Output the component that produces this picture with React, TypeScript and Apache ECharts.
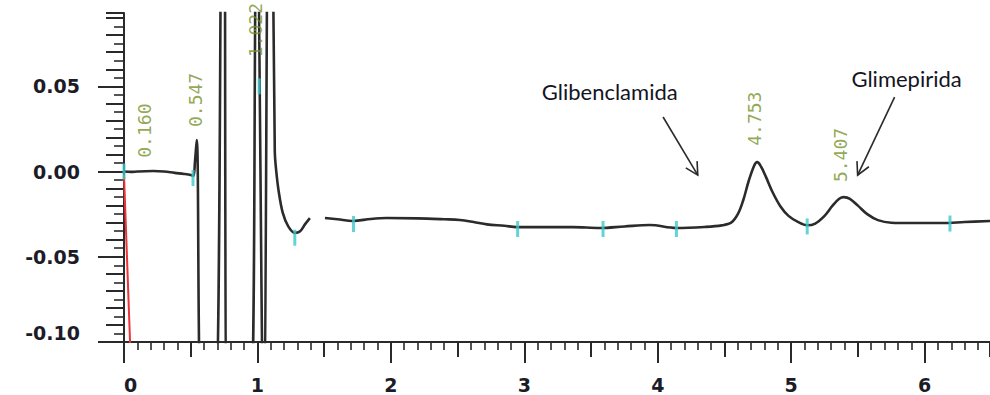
import React, { useEffect, useRef } from "react";
import * as echarts from "echarts";

// Retention time (min) and detector signal (AU). null = gap in the trace.
const retentionTime = [
  0, 0.05, 0.1, 0.16, 0.22, 0.3, 0.38, 0.45, 0.5, 0.52, 0.532, 0.545, 0.59,
  0.675, 0.74, 0.746, 0.752, 0.775, 0.935, 0.99, 0.995, 1.045, 1.085, 1.09,
  1.095, 1.13, 1.14, 1.16, 1.19, 1.23, 1.28, 1.32, 1.356, 1.393, 1.45, 1.506,
  1.6, 1.715, 1.85, 1.97, 2.2, 2.4, 2.517, 2.62, 2.72, 2.85, 2.944, 3.15,
  3.363, 3.566, 3.75, 3.94, 4.14, 4.35, 4.48, 4.55, 4.6, 4.64, 4.68, 4.72,
  4.745, 4.77, 4.81, 4.86, 4.92, 4.98, 5.05, 5.12, 5.18, 5.25, 5.31, 5.36,
  5.395, 5.44, 5.5, 5.57, 5.65, 5.75, 5.9, 6.135, 6.3, 6.49,
];
const signal: (number | null)[] = [
  0, -0.0002, 0, 0.0002, 0.0003, 0, -0.0008, -0.0014, -0.002, -0.0026, 0.006,
  0.0185, -0.15, -0.15, 0.3, 0.32, 0.3, -0.15, -0.15, 0.15, 0.16, -0.15, 0.3,
  0.31, 0.3, 0.012, 0.001, -0.012, -0.0243, -0.032, -0.036, -0.035, -0.031,
  -0.0273, null, -0.0273, -0.028, -0.029, -0.0278, -0.0273, -0.0275, -0.028,
  -0.0284, -0.0296, -0.031, -0.0318, -0.0326, -0.0326, -0.0326, -0.0331,
  -0.0322, -0.0314, -0.0331, -0.0325, -0.0316, -0.03, -0.025, -0.017, -0.006,
  0.003, 0.0055, 0.0035, -0.003, -0.012, -0.0205, -0.026, -0.0295, -0.0315,
  -0.0305, -0.026, -0.02, -0.016, -0.015, -0.016, -0.02, -0.025, -0.0285,
  -0.03, -0.0302, -0.0302, -0.0296, -0.029,
];

// Red baseline-start line
const redTime = [0, 0.05];
const redSignal = [-0.002, -0.11];

// Cyan integration markers
const markerTime = [0, 0.517, 1.013, 1.28, 1.72, 2.95, 3.59, 4.14, 5.12, 6.19];
const markerSignal = [0, -0.0038, 0.05, -0.0388, -0.0308, -0.0337, -0.0337, -0.0337, -0.0322, -0.0305];

// Retention-time labels of the peaks
const peakLabels = ["0.160", "0.547", "1.022", "4.753", "5.407"];
const peakLabelTime = [0.155, 0.533, 0.985, 4.728, 5.37];
const peakLabelSignal = [0.024, 0.042, 0.083, 0.031, 0.0097];

// Compound annotations
const compoundNames = ["Glibenclamida", "Glimepirida"];
const compoundTextPos = [[3.64, 0.0472], [5.865, 0.0548]];
const arrowFrom = [[4.04, 0.032], [5.775, 0.0437]];
const arrowTo = [[4.3, -0.0021], [5.498, -0.0021]];

// Axis ticks
const xMajor = [0, 1, 2, 3, 4, 5, 6];
const yMajor = [-0.1, -0.05, 0, 0.05];
const X_MIN = 0;
const X_MAX = 6.49;
const Y_MIN = -0.1;
const Y_MAX = 0.093;

const AXIS_COLOR = "#2a2a2a";
const LABEL_FONT = "DejaVu Sans";

export default function App() {
  const ref = useRef<HTMLDivElement>(null);

  useEffect(() => {
    if (!ref.current) return;
    const chart = echarts.init(ref.current, undefined, { renderer: "svg" });

    const traceData = retentionTime.map((t, i) => [t, signal[i]]);
    const redData = redTime.map((t, i) => [t, redSignal[i]]);
    const markerData = markerTime.map((t, i) => [t, markerSignal[i]]);
    const labelData = peakLabels.map((n, i) => ({
      name: n,
      value: [peakLabelTime[i], peakLabelSignal[i]],
    }));

    const overlayX = (interval: number, length: number, width: number) => ({
      type: "value",
      position: "bottom",
      min: X_MIN,
      max: X_MAX,
      interval,
      axisLine: { show: false, onZero: false },
      axisLabel: { show: false },
      splitLine: { show: false },
      axisTick: { show: true, length, lineStyle: { color: AXIS_COLOR, width } },
    });
    const overlayY = (interval: number, length: number, width: number) => ({
      type: "value",
      position: "left",
      min: Y_MIN,
      max: Y_MAX,
      interval,
      axisLine: { show: false, onZero: false },
      axisLabel: { show: false },
      splitLine: { show: false },
      axisTick: { show: true, length, lineStyle: { color: AXIS_COLOR, width } },
    });

    chart.setOption({
      animation: false,
      backgroundColor: "#ffffff",
      grid: { left: 124, top: 13, right: 0, bottom: 53 },
      xAxis: [
        {
          type: "value",
          position: "bottom",
          min: X_MIN,
          max: X_MAX,
          interval: 1,
          axisLine: { show: true, onZero: false, lineStyle: { color: AXIS_COLOR, width: 2 } },
          axisTick: {
            show: true,
            length: 21,
            customValues: xMajor,
            lineStyle: { color: AXIS_COLOR, width: 2 },
          },
          axisLabel: {
            show: true,
            customValues: xMajor,
            margin: 33,
            alignMinLabel: "left",
            fontFamily: LABEL_FONT,
            fontWeight: "bold",
            fontSize: 19,
            color: "#1c1c28",
            formatter: (v: number) => String(Math.round(v)),
          },
          splitLine: { show: false },
        },
        overlayX(0.5, 15, 2),
        overlayX(0.1, 8, 1.6),
      ],
      yAxis: [
        {
          type: "value",
          position: "left",
          min: Y_MIN,
          max: Y_MAX,
          interval: 0.05,
          axisLine: { show: true, onZero: false, lineStyle: { color: AXIS_COLOR, width: 2 } },
          axisTick: {
            show: true,
            length: 26,
            customValues: yMajor,
            lineStyle: { color: AXIS_COLOR, width: 2 },
          },
          axisLabel: {
            show: true,
            customValues: yMajor,
            margin: 44,
            verticalAlignMinLabel: "bottom",
            fontFamily: LABEL_FONT,
            fontWeight: "bold",
            fontSize: 19,
            color: "#1c1c28",
            formatter: (v: number) => v.toFixed(2),
          },
          splitLine: { show: false },
        },
        overlayY(0.01, 18, 2),
        overlayY(0.005, 10, 1.6),
      ],
      series: [
        {
          type: "line",
          xAxisIndex: 0,
          yAxisIndex: 0,
          data: traceData,
          showSymbol: false,
          connectNulls: false,
          clip: true,
          smooth: 0.35,
          lineStyle: { color: "#2b2b2b", width: 2.6 },
          z: 3,
        },
        {
          type: "line",
          xAxisIndex: 0,
          yAxisIndex: 0,
          data: redData,
          showSymbol: false,
          clip: true,
          lineStyle: { color: "#e8343a", width: 2 },
          z: 2,
        },
        {
          type: "scatter",
          xAxisIndex: 0,
          yAxisIndex: 0,
          data: markerData,
          symbol: "rect",
          symbolSize: [3, 16],
          itemStyle: { color: "#3cc9cc" },
          z: 4,
        },
        {
          type: "scatter",
          xAxisIndex: 0,
          yAxisIndex: 0,
          data: labelData,
          symbolSize: 0,
          clip: false,
          label: {
            show: true,
            position: "inside",
            rotate: 90,
            formatter: (p: any) => p.name,
            fontFamily: "DejaVu Sans Mono",
            fontSize: 18,
            color: "#76912a",
          },
          z: 5,
        },
      ],
    });

    const toPx = (pt: number[]) =>
      chart.convertToPixel({ xAxisIndex: 0, yAxisIndex: 0 }, pt) as number[];

    const graphics: any[] = [];
    compoundNames.forEach((name, i) => {
      const tp = toPx(compoundTextPos[i]);
      graphics.push({
        type: "text",
        x: tp[0],
        y: tp[1],
        style: {
          text: name,
          font: "22px Lato",
          fill: "#14141e",
          align: "center",
          verticalAlign: "middle",
        },
      });
      const a = toPx(arrowFrom[i]);
      const b = toPx(arrowTo[i]);
      graphics.push({
        type: "line",
        shape: { x1: a[0], y1: a[1], x2: b[0], y2: b[1] },
        style: { stroke: "#2a2a2a", lineWidth: 1.6 },
      });
      const ang = Math.atan2(b[1] - a[1], b[0] - a[0]);
      const L = 14;
      const th = (28 * Math.PI) / 180;
      const w1 = [b[0] - L * Math.cos(ang - th), b[1] - L * Math.sin(ang - th)];
      const w2 = [b[0] - L * Math.cos(ang + th), b[1] - L * Math.sin(ang + th)];
      graphics.push({
        type: "polyline",
        shape: { points: [w1, b, w2] },
        style: { stroke: "#2a2a2a", lineWidth: 1.6, fill: "none" },
      });
    });
    chart.setOption({ graphic: graphics });

    return () => chart.dispose();
  }, []);

  return (
    <div
      ref={ref}
      style={{ position: "absolute", left: 0, top: 0, width: 990, height: 395 }}
    />
  );
}
